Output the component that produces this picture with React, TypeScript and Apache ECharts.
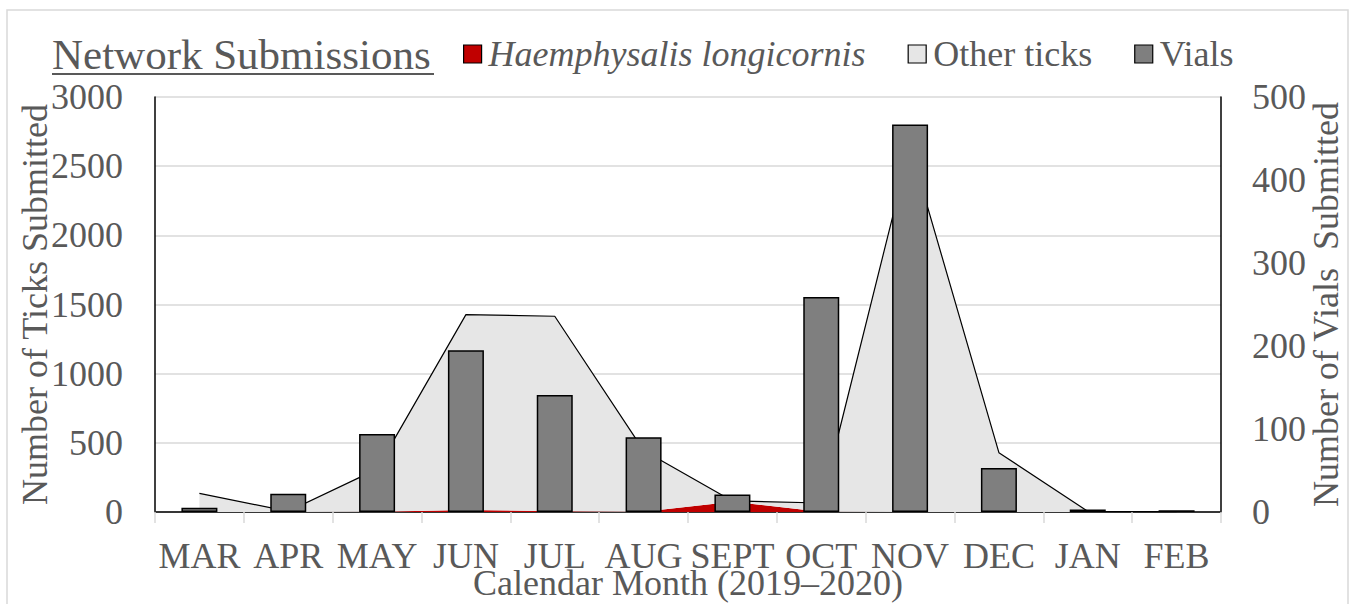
import React, { useEffect, useRef } from "react";
import * as echarts from "echarts";

const months = ["MAR", "APR", "MAY", "JUN", "JUL", "AUG", "SEPT", "OCT", "NOV", "DEC", "JAN", "FEB"];
const longicornis = [0, 0, 2, 15, 5, 2, 75, 2, 0, 0, 0, 0];
const otherTicks = [135, 5, 308, 1412, 1410, 443, 5, 63, 2640, 429, 5, 3];
const vials = [5, 22, 94, 195, 141, 90, 21, 259, 467, 53, 3, 2];
const leftTicks = { min: 0, max: 3000, interval: 500 };
const rightTicks = { min: 0, max: 500, interval: 100 };

const FONT = "'Liberation Serif', 'Times New Roman', serif";
const TXT = "#595959";

export default function App() {
  const ref = useRef<HTMLDivElement>(null);
  useEffect(() => {
    const chart = echarts.init(ref.current!, null, { renderer: "svg" });
    const option: any = {
      animation: false,
      textStyle: { fontFamily: FONT, color: TXT },
      graphic: [
        {
          type: "rect",
          shape: { x: 7, y: 10, width: 1341, height: 700 },
          style: { fill: "none", stroke: "#d9d9d9", lineWidth: 1.5 },
          silent: true,
        },
        {
          type: "text",
          left: 52,
          top: 33,
          style: { text: "Network Submissions", font: `43px ${FONT}`, fill: TXT },
        },
        {
          type: "line",
          shape: { x1: 52, y1: 74, x2: 434, y2: 74 },
          style: { stroke: TXT, lineWidth: 2 },
        },
      ],
      legend: {
        left: 458,
        top: 31,
        itemWidth: 18,
        itemHeight: 18,
        itemGap: 42,
        textStyle: { fontFamily: FONT, fontSize: 36, color: TXT, padding: [0, 0, 0, 2] },
        formatter: (name: string) =>
          name === "Haemphysalis longicornis" ? `{i|${name}}` : name,
        data: [
          {
            name: "Haemphysalis longicornis",
            icon: "rect",
            itemStyle: { color: "#c00000", borderColor: "#000", borderWidth: 1.2 },
            textStyle: {
              rich: { i: { fontStyle: "italic", fontFamily: FONT, fontSize: 36, color: TXT } },
            },
          },
          {
            name: "Other ticks",
            icon: "rect",
            itemStyle: { color: "#e6e6e6", borderColor: "#000", borderWidth: 1.2 },
          },
          {
            name: "Vials",
            icon: "rect",
            itemStyle: { color: "#7f7f7f", borderColor: "#000", borderWidth: 1.2 },
          },
        ],
      },
      grid: {
        left: 155,
        right: 133,
        top: 97,
        bottom: 92,
        containLabel: false,
        outerBoundsMode: "none",
      },
      xAxis: [
        {
          type: "category",
          data: months,
          boundaryGap: true,
          axisLine: { lineStyle: { color: "#d9d9d9", width: 1.5 } },
          axisTick: { show: true, length: 11, lineStyle: { color: "#d9d9d9", width: 1.5 } },
          axisLabel: {
            fontFamily: FONT,
            fontSize: 36,
            lineHeight: 26,
            color: TXT,
            margin: 31,
            interval: 0,
          },
          name: "Calendar Month (2019–2020)",
          nameLocation: "middle",
          nameGap: 58,
          nameMoveOverlap: false,
          nameTextStyle: { fontFamily: FONT, fontSize: 36, lineHeight: 26, color: TXT },
        },
        {
          type: "category",
          data: months,
          position: "top",
          axisLine: { lineStyle: { color: "#000", width: 1.5 } },
          axisTick: { show: false },
          axisLabel: { show: false },
        },
      ],
      yAxis: [
        {
          type: "value",
          ...leftTicks,
          axisLine: { show: true, lineStyle: { color: "#000", width: 1.5 } },
          axisTick: { show: false },
          splitLine: { lineStyle: { color: "#d9d9d9", width: 1.5 } },
          axisLabel: {
            fontFamily: FONT,
            fontSize: 36,
            color: TXT,
            margin: 32,
            formatter: (v: number) => String(v),
          },
          name: "Number of Ticks Submitted",
          nameLocation: "middle",
          nameRotate: 90,
          nameGap: 102,
          nameMoveOverlap: false,
          nameTextStyle: { fontFamily: FONT, fontSize: 36, color: TXT },
        },
        {
          type: "value",
          ...rightTicks,
          position: "right",
          axisLine: { show: true, lineStyle: { color: "#000", width: 1.5 } },
          axisTick: { show: false },
          splitLine: { show: false },
          axisLabel: {
            fontFamily: FONT,
            fontSize: 36,
            color: TXT,
            margin: 31,
            formatter: (v: number) => String(v),
          },
          name: "Number of Vials  Submitted",
          nameLocation: "middle",
          nameRotate: 90,
          nameGap: 87,
          nameMoveOverlap: false,
          nameTextStyle: { fontFamily: FONT, fontSize: 36, color: TXT },
        },
      ],
      series: [
        {
          name: "Haemphysalis longicornis",
          type: "line",
          stack: "ticks",
          data: longicornis,
          symbol: "none",
          lineStyle: { width: 0, color: "#c00000" },
          itemStyle: { color: "#c00000" },
          areaStyle: { color: "#c00000", opacity: 1 },
          z: 2,
        },
        {
          name: "Other ticks",
          type: "line",
          stack: "ticks",
          data: otherTicks,
          symbol: "none",
          lineStyle: { width: 1.2, color: "#000" },
          itemStyle: { color: "#e6e6e6" },
          areaStyle: { color: "#e6e6e6", opacity: 1 },
          z: 2,
        },
        {
          name: "Vials",
          type: "bar",
          yAxisIndex: 1,
          data: vials,
          barWidth: 36,
          itemStyle: { color: "#7f7f7f", borderColor: "#000", borderWidth: 1.5 },
          z: 3,
        },
      ],
    };
    chart.setOption(option);
    return () => chart.dispose();
  }, []);
  return (
    <div
      ref={ref}
      style={{ position: "fixed", left: 0, top: 0, width: 1354, height: 604, background: "#fff" }}
    />
  );
}
